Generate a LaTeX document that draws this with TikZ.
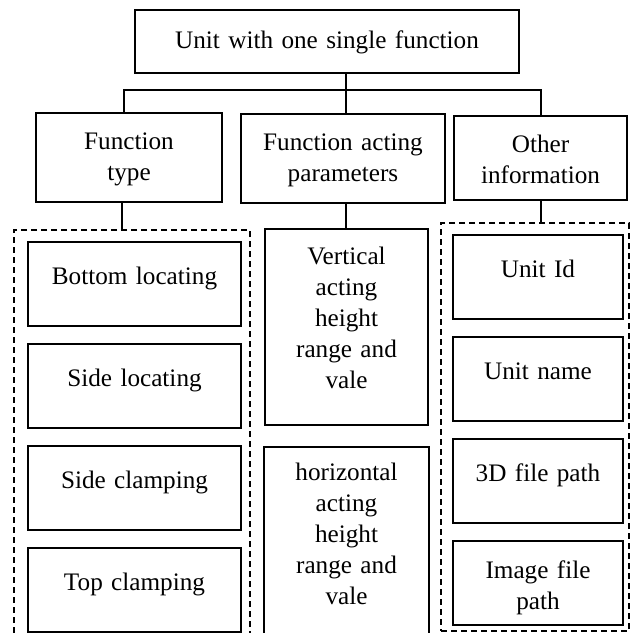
\documentclass[tikz,border=0pt]{standalone}
\usepackage{fontspec}
\setmainfont{Liberation Serif}
\usetikzlibrary{positioning}

\begin{document}
\begin{tikzpicture}[
	x=0.5pt, y=-0.5pt, line width=1pt, node distance=8pt,
	font=\fontsize{12.6}{15.5}\selectfont,
	box/.style={draw,align=center,inner sep=0pt,anchor=north west},
	group/.style={draw,dash pattern=on 3.2pt off 1.8pt,inner sep=0pt,anchor=north west}
	]
	\useasboundingbox (0,0) rectangle (630,633);
	\clip (0,0) rectangle (630,633);
	\node [box,text width=192pt,text height=19pt,text depth=12.5pt] (U) at (134,9) {Unit with one single function};
	\node [box,text width=93pt,text height=18pt,text depth=26.5pt] (T) at (35,112) {Function\\type};
	\node [box,text width=102pt,text height=18pt,text depth=26.5pt] (A) at (240,113) {Function acting\\parameters};
	\node [box,text width=86.5pt,text height=18pt,text depth=24pt] (O) at (453,115) {Other\\information};
	\node [group,minimum width=118pt,minimum height=225.5pt] (TG) at (13,229) {};
	\node [group,minimum width=94pt,minimum height=204pt] (OG) at (440,222) {};
	\node [box,text width=106.5pt,text height=21pt,text depth=21pt] (BL) at (27,241) {Bottom locating};
	\node [box,text width=106.5pt,text height=21pt,text depth=21pt,below=of BL] (SL) {Side locating};
	\node [box,text width=106.5pt,text height=21pt,text depth=21pt,below=of SL] (SC) {Side clamping};
	\node [box,text width=106.5pt,text height=21pt,text depth=21pt,below=of SC] (TC) {Top clamping};
	\node [box,text width=81.5pt,text height=17.5pt,text depth=80.5pt] (VA) at (264,228) {Vertical\\acting\\height\\range and\\vale};
	\node [box,text width=82.5pt,text height=16.5pt,text depth=101.5pt,below=10pt of VA] (HA) {horizontal\\acting\\height\\range and\\vale};
	\node [box,text width=85pt,text height=21pt,text depth=21pt] (ID) at (452,234) {Unit Id};
	\node [box,text width=85pt,text height=21pt,text depth=21pt,below=of ID] (UN) {Unit name};
	\node [box,text width=85pt,text height=21pt,text depth=21pt,below=of UN] (FP) {3D file path};
	\node [box,text width=85pt,text height=18.5pt,text depth=23.5pt,below=of FP] (IP) {Image file\\path};
	\coordinate (J) at (346,90);
	\draw (U.south -| J) -- (J |- A.north);
	\draw ([xshift=-2.5pt]T.north) |- (O.north |- J) -- (O.north);
	\draw ([xshift=-3.5pt]T.south) -- ([xshift=-3.5pt]T.south |- TG.north);
	\draw (A.south -| J) -- (J |- VA.north);
	\draw (O.south) -- (O.south |- OG.north);
\end{tikzpicture}
\end{document}
